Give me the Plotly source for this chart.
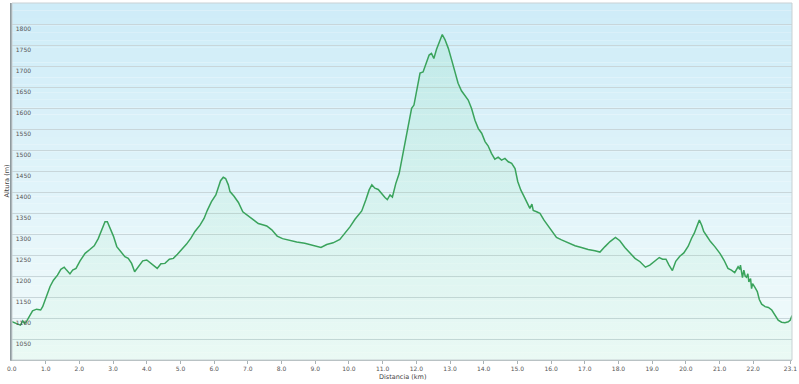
import plotly.graph_objects as go

# ---- data ----
dist_km = [0.00, 0.10, 0.19, 0.25, 0.32, 0.38, 0.44, 0.51, 0.61, 0.73, 0.85, 0.91,
           1.03, 1.13, 1.23, 1.35, 1.45, 1.55, 1.62, 1.72, 1.80, 1.90, 2.02, 2.17,
           2.31, 2.44, 2.56, 2.66, 2.76, 2.83, 2.91, 3.01, 3.11, 3.22, 3.35, 3.45,
           3.55, 3.64, 3.75, 3.88, 4.00, 4.10, 4.21, 4.31, 4.42, 4.54, 4.67, 4.79,
           4.91, 5.03, 5.18, 5.31, 5.43, 5.58, 5.70, 5.80, 5.92, 6.05, 6.12, 6.19,
           6.27, 6.34, 6.42, 6.47, 6.59, 6.72, 6.85, 6.98, 7.16, 7.31, 7.49, 7.56,
           7.71, 7.87, 8.03, 8.25, 8.45, 8.69, 8.94, 9.17, 9.34, 9.53, 9.73, 9.88,
           10.03, 10.18, 10.38, 10.50, 10.60, 10.68, 10.77, 10.87, 10.97, 11.07, 11.14, 11.22,
           11.29, 11.39, 11.49, 11.59, 11.69, 11.79, 11.86, 11.93, 12.01, 12.11, 12.20, 12.28,
           12.38, 12.45, 12.52, 12.60, 12.70, 12.77, 12.85, 12.95, 13.05, 13.15, 13.24, 13.34,
           13.44, 13.54, 13.64, 13.74, 13.84, 13.94, 14.04, 14.13, 14.23, 14.33, 14.43, 14.53,
           14.63, 14.73, 14.83, 14.93, 15.01, 15.10, 15.20, 15.27, 15.37, 15.43, 15.47, 15.57,
           15.67, 15.79, 15.92, 16.04, 16.16, 16.31, 16.51, 16.71, 16.90, 17.10, 17.30, 17.45,
           17.60, 17.75, 17.91, 18.04, 18.19, 18.34, 18.49, 18.64, 18.80, 18.93, 19.08, 19.21,
           19.31, 19.41, 19.50, 19.60, 19.70, 19.82, 19.94, 20.07, 20.17, 20.25, 20.34, 20.40,
           20.47, 20.53, 20.63, 20.73, 20.86, 21.01, 21.13, 21.25, 21.35, 21.45, 21.55, 21.60,
           21.62, 21.65, 21.68, 21.72, 21.76, 21.80, 21.84, 21.87, 21.92, 21.95, 21.98, 22.05,
           22.12, 22.18, 22.25, 22.35, 22.45, 22.55, 22.64, 22.74, 22.84, 22.94, 23.04, 23.10,
           23.15]
altitude_m = [1091, 1088, 1085, 1083, 1093, 1087, 1093, 1103, 1117, 1121, 1119, 1127,
              1156, 1175, 1190, 1202, 1216, 1221, 1214, 1205, 1214, 1218, 1236, 1254,
              1263, 1272, 1289, 1310, 1329, 1329, 1313, 1295, 1270, 1258, 1246, 1242,
              1230, 1210, 1222, 1236, 1238, 1232, 1226, 1218, 1229, 1230, 1240, 1242,
              1252, 1262, 1276, 1290, 1306, 1321, 1337, 1357, 1377, 1393, 1411, 1427,
              1435, 1432, 1417, 1401, 1390, 1375, 1353, 1345, 1332, 1325, 1321, 1319,
              1310, 1295, 1289, 1284, 1281, 1278, 1273, 1268, 1275, 1279, 1287, 1302,
              1317, 1335, 1355, 1381, 1405, 1417, 1409, 1406, 1395, 1387, 1382, 1393,
              1388, 1420, 1444, 1488, 1532, 1571, 1599, 1607, 1643, 1683, 1686, 1706,
              1726, 1730, 1718, 1740, 1758, 1775, 1763, 1742, 1714, 1683, 1659, 1641,
              1631, 1619, 1599, 1571, 1551, 1540, 1520, 1510, 1492, 1478, 1483, 1476,
              1480, 1472, 1468, 1456, 1425, 1405, 1389, 1377, 1361, 1371, 1356, 1353,
              1349, 1333, 1319, 1306, 1292, 1286, 1279, 1272, 1268, 1263, 1260, 1257,
              1270, 1282, 1292, 1284, 1268, 1254, 1242, 1234, 1221, 1226, 1236, 1244,
              1240, 1240, 1226, 1213, 1235, 1247, 1255, 1271, 1290, 1302, 1321, 1333,
              1321, 1306, 1294, 1282, 1270, 1254, 1238, 1218, 1214, 1208, 1222, 1216,
              1226, 1212, 1196, 1214, 1200, 1197, 1205, 1186, 1194, 1170, 1182, 1173,
              1163, 1144, 1133, 1127, 1125, 1119, 1107, 1095, 1090, 1089, 1091, 1095,
              1106]

x_tick_vals = list(range(0, 23)) + [23.1]
x_tick_text = [f"{v:.1f}" for v in x_tick_vals]
y_tick_vals = list(range(1050, 1801, 50))
x_title = "Distancia (km)"
y_title = "Altura (m)"

# ---- figure ----
fig = go.Figure()
fig.add_trace(go.Scatter(
    x=dist_km, y=altitude_m, mode="lines",
    line=dict(color="#3aa35c", width=1.5),
    fill="tozeroy",
    fillgradient=dict(type="vertical", start=1000, stop=1800,
                      colorscale=[[0, "rgba(110,225,140,0.06)"],
                                  [1, "rgba(80,210,125,0.13)"]]),
    hoverinfo="skip", showlegend=False,
))

# vertical background gradient (light blue at top -> nearly white at bottom)
shapes = []
n = 48
top = (206, 236, 248)
bot = (242, 251, 251)
for i in range(n):
    t = i / (n - 1)
    c = tuple(round(top[k] + (bot[k] - top[k]) * t) for k in range(3))
    y1 = 1 - i / n
    y0 = 1 - (i + 1) / n
    shapes.append(dict(type="rect", xref="paper", yref="paper", x0=0, x1=1,
                       y0=y0, y1=y1, fillcolor=f"rgb{c}", line=dict(width=0),
                       layer="below"))
# plot border
shapes.append(dict(type="rect", xref="paper", yref="paper", x0=0, x1=1, y0=0, y1=1,
                   line=dict(color="#c9d1d4", width=1), layer="above"))

tick_font = dict(family="DejaVu Sans, Verdana, sans-serif", size=6, color="#555555")
annotations = [
    dict(text=x_title, xref="paper", yref="paper", x=0.5, y=0,
         xanchor="center", yanchor="middle", yshift=-17, showarrow=False,
         font=dict(size=6.5, color="#444444")),
    dict(text=y_title, xref="paper", yref="paper", x=0, y=0.5,
         xanchor="center", yanchor="middle", xshift=-6, textangle=-90,
         showarrow=False, font=dict(size=6.5, color="#444444")),
    # first x tick label (plotly hides it next to the inside y labels)
    dict(text=x_tick_text[0], xref="x", yref="paper", x=x_tick_vals[0], y=0,
         xanchor="center", yanchor="top", yshift=-3, showarrow=False,
         font=tick_font),
]

fig.update_layout(
    width=799, height=384,
    margin=dict(l=12, r=7, t=3, b=24, autoexpand=False),
    paper_bgcolor="white", plot_bgcolor="rgba(0,0,0,0)",
    shapes=shapes,
    font=dict(family="DejaVu Sans, Verdana, sans-serif", size=6, color="#555555"),
    xaxis=dict(range=[0, 23.15], tickvals=x_tick_vals, ticktext=x_tick_text,
               tickangle=0, automargin=False, ticklabeloverflow="allow",
               showgrid=False, zeroline=False, showline=True, linecolor="#a9b2b5",
               linewidth=1, ticks="outside", ticklen=3, tickcolor="#a9b2b5",
               tickfont=tick_font, fixedrange=True),
    yaxis=dict(range=[1000, 1850], tickvals=y_tick_vals, automargin=False,
               showgrid=True, gridcolor="#c8d6da", gridwidth=1, zeroline=False,
               showline=True, linecolor="#8f9a9e", linewidth=2,
               ticks="", ticklabelposition="inside", ticklabelshift=5,
               ticklabelstandoff=2,
               tickfont=tick_font, fixedrange=True),
    annotations=annotations,
)

fig.write_html("out.html", config={"displayModeBar": False},
               post_script="document.body.style.margin='0';")
